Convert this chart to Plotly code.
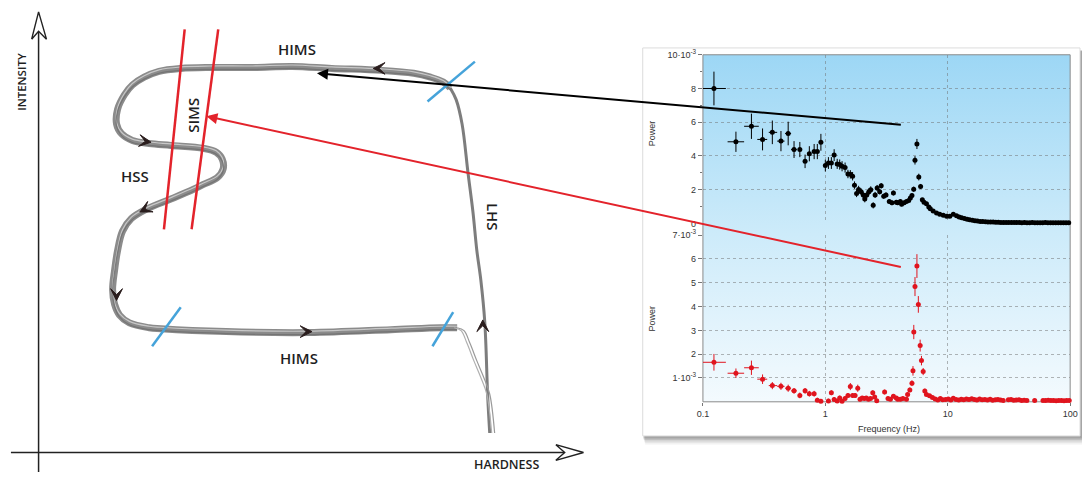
import math
import plotly.graph_objects as go

# ---------------- left schematic (canvas pixel coordinates, y down) ----------------
# low-hard state branch (rising)
lhs_x = [490, 488, 485, 481, 477, 473, 468, 462, 456, 450]
lhs_y = [437, 400, 323, 280, 250, 210, 170, 120, 95, 83]
# main loop: upper HIMS -> SIMS -> HSS -> lower HIMS
loop_x = [450, 443, 430, 413, 380, 330, 290, 250, 207, 177, 155, 140, 128, 120, 113, 112, 117, 128, 145,
          167, 200, 213, 219, 220, 214, 200, 190, 167, 143, 127, 118, 113, 110, 108, 110, 115, 125, 145,
          157, 223, 307, 390, 440, 457]
loop_y = [83, 77, 72, 68, 65, 63, 61, 62, 62, 63, 66, 72, 80, 90, 105, 120, 130, 137, 140,
          142, 145, 149, 156, 166, 175, 182, 187, 197, 207, 217, 230, 250, 270, 290, 305, 316, 324, 329,
          330, 333, 334, 331, 329, 329]
# thin tail falling back to the bottom
tail_x = [457, 464, 470, 477, 484, 490, 495]
tail_y = [329, 332, 345, 363, 380, 397, 437]

chev_x = [377, 142, 140, 112, 305, 483]
chev_y = [63, 138, 208, 296, 333, 326]
chev_ang = [180, 8, 153, 90, 0, -90]

blue_ticks = [((427, 97), (475, 56)), ((148, 348), (177, 308)), ((432, 348), (453, 313))]
red_bars = [((181, 23), (160, 228)), ((215, 23), (188, 228))]

labels = [("HIMS", 295, 43, 0, 15), ("HIMS", 297, 360, 0, 15), ("HSS", 131, 173, 0, 15),
          ("SIMS", 190, 111, -90, 15), ("LHS", 494, 215, 90, 15),
          ("INTENSITY", 15, 77, -90, 11.5), ("HARDNESS", 507, 469, 0, 12.5)]

# ---------------- power density spectra ----------------
blk_f = [0.123, 0.186, 0.249, 0.307, 0.369, 0.434, 0.497, 0.555, 0.619, 0.683, 0.74, 0.81, 0.86, 0.92,
         1.00, 1.06, 1.12, 1.18, 1.25, 1.31, 1.37, 1.45, 1.53, 1.60, 1.67, 1.73, 1.80, 1.87, 1.96, 2.04,
         2.10, 2.18, 2.27, 2.35, 2.46, 2.55, 2.65, 2.78, 2.86, 3.00, 3.13, 3.33, 3.50, 3.60, 3.80, 3.90,
         4.10, 4.20, 4.40, 4.60, 4.80, 4.95, 5.10, 5.27, 5.40, 5.60, 5.80, 6.00, 6.20, 6.40, 6.70, 7.00,
         7.20, 7.60, 8.10, 8.60, 9.20, 9.80, 10.4, 11.1, 11.8, 12.4,
         13.0, 13.7, 14.4, 15.1, 15.9, 16.7, 17.5, 18.4, 19.3, 20.3, 21.3, 22.4, 23.5, 24.7, 25.9, 27.2,
         28.6, 30.0, 31.5, 33.1, 34.8, 36.5, 38.4, 40.3, 42.3, 44.4, 46.7, 49.0, 51.5, 54.1, 56.8, 59.6,
         62.6, 65.8, 69.1, 72.5, 76.2, 80.0, 84.0, 88.2, 92.6, 97.3]
blk_p = [8.0, 4.84, 5.76, 4.98, 5.40, 4.88, 5.33, 4.38, 4.38, 3.68, 4.13, 4.26, 4.26, 4.81,
         3.43, 3.58, 3.58, 4.05, 3.53, 3.49, 3.39, 3.31, 2.93, 2.91, 2.80, 2.27, 1.78, 2.01, 1.88, 1.69,
         1.45, 1.69, 1.88, 2.00, 1.07, 1.69, 2.10, 1.88, 2.23, 1.61, 1.69, 1.30, 1.22, 1.80, 1.26, 1.22,
         1.30, 1.14, 1.22, 1.30, 1.36, 1.51, 1.65, 2.03, 3.74, 4.71, 2.75, 2.19, 1.40, 1.26, 1.16, 0.98,
         0.87, 0.74, 0.62, 0.54, 0.48, 0.43, 0.43, 0.54, 0.45, 0.38,
         0.33, 0.29, 0.25, 0.22, 0.19, 0.16, 0.14, 0.12, 0.11, 0.10, 0.09, 0.08, 0.08, 0.07, 0.07, 0.06,
         0.06, 0.06, 0.05, 0.05, 0.05, 0.05, 0.05, 0.04, 0.05, 0.04, 0.04, 0.05, 0.04, 0.04, 0.04, 0.04,
         0.05, 0.04, 0.04, 0.04, 0.04, 0.04, 0.04, 0.04, 0.04, 0.04]
blk_err = [1.0, 0.6, 0.75, 0.65, 0.7, 0.6, 0.7, 0.5, 0.45, 0.4, 0.45, 0.45, 0.45, 0.5,
           0.35, 0.35, 0.35, 0.35, 0.3, 0.3, 0.3, 0.3, 0.25, 0.25, 0.25, 0.22, 0.22, 0.22, 0.2, 0.2,
           0.2, 0.2, 0.2, 0.2, 0.18, 0.18, 0.18, 0.16, 0.16, 0.15, 0.15, 0.14, 0.14, 0.14, 0.13, 0.13,
           0.12, 0.12, 0.12, 0.12, 0.12, 0.12, 0.12, 0.15, 0.25, 0.3, 0.2, 0.15, 0.1, 0.1, 0.08, 0.06,
           0.06, 0.05, 0.05, 0.04, 0.04, 0.04, 0.04, 0.04, 0.03, 0.03]
blk_fplus = [0.031, 0.031, 0.037, 0.028, 0.035, 0.03, 0.028, 0.03]
blk_fminus = [0.023, 0.027, 0.032, 0.029, 0.024, 0.03, 0.028, 0.03]

red_f = [0.123, 0.186, 0.249, 0.307, 0.369, 0.434, 0.497, 0.555, 0.619, 0.683, 0.74, 0.81, 0.86, 0.92,
         1.06, 1.12, 1.18, 1.25, 1.31, 1.37, 1.45, 1.53, 1.60, 1.67, 1.75, 1.84, 1.92, 2.00, 2.08, 2.16,
         2.25, 2.34, 2.44, 2.53, 2.63, 3.05, 3.25, 3.40, 3.60, 3.80, 3.90, 4.10, 4.30, 4.60, 4.70, 4.90,
         5.10, 5.20, 5.28, 5.40, 5.60, 5.75, 5.95, 6.10, 6.30, 6.50, 6.70, 7.10,
         7.5, 7.9, 8.3, 8.7, 9.1, 9.6, 10.1, 10.6, 11.1, 11.7, 12.3, 12.9, 13.5, 14.2, 14.9, 15.7, 16.5,
         17.3, 18.2, 19.1, 20.1, 21.1, 22.2, 23.3, 24.5, 25.7, 27.0, 28.4, 31.3, 32.9, 34.6, 36.3, 38.2,
         40.1, 42.1, 44.3, 51.3, 60.0, 63.0, 66.2, 69.6, 73.1, 76.8, 80.7, 84.8, 89.1, 93.6, 98.3]
red_p = [1.66, 1.20, 1.43, 0.95, 0.68, 0.65, 0.57, 0.46, 0.27, 0.46, 0.34, 0.34, 0.07, 0.02,
         0.03, 0.38, 0.10, 0.03, 0.16, 0.02, 0.14, 0.27, 0.64, 0.27, 0.27, 0.57, 0.11, 0.16, 0.14, 0.16,
         0.11, 0.14, 0.38, 0.20, 0.04, 0.41, 0.14, 0.11, 0.23, 0.16, 0.11, 0.11, 0.14, 0.11, 0.31, 0.50,
         0.78, 1.30, 2.93, 4.84, 5.70, 4.09, 2.36, 1.73, 1.27, 0.45, 0.31, 0.25,
         0.18, 0.12, 0.08, 0.14, 0.09, 0.10, 0.12, 0.08, 0.15, 0.10, 0.08, 0.11, 0.09, 0.12, 0.10, 0.13, 0.10,
         0.08, 0.12, 0.09, 0.10, 0.08, 0.11, 0.07, 0.09, 0.10, 0.08, 0.06, 0.09, 0.10, 0.07, 0.08, 0.09,
         0.06, 0.07, 0.06, 0.05, 0.06, 0.05, 0.07, 0.05, 0.06, 0.04, 0.05, 0.06, 0.04, 0.05, 0.05]
red_err = [0.35, 0.2, 0.3, 0.2, 0.15, 0.15, 0.15, 0.12, 0.12, 0.12, 0.12, 0.12, 0.1, 0.1,
           0.1, 0.1, 0.1, 0.1, 0.1, 0.1, 0.1, 0.1, 0.15, 0.1, 0.1, 0.15, 0.1, 0.08, 0.08, 0.08,
           0.08, 0.08, 0.1, 0.08, 0.08, 0.1, 0.08, 0.08, 0.08, 0.08, 0.08, 0.08, 0.08, 0.08, 0.08, 0.1,
           0.12, 0.2, 0.3, 0.4, 0.5, 0.35, 0.25, 0.2, 0.15, 0.1, 0.08, 0.08]
red_fplus = blk_fplus
red_fminus = blk_fminus

f_ticks = [0.1, 1, 10, 100]
f_ticktext = ["0.1", "1", "10", "100"]
top_ticks = [0, 2, 4, 6, 8, 10]
top_ticktext = ["0", "2", "4", "6", "8", "10·10<sup>-3</sup>"]
bot_ticks = [1, 2, 3, 4, 5, 6, 7]
bot_ticktext = ["1·10<sup>-3</sup>", "2", "3", "4", "5", "6", "7·10<sup>-3</sup>"]

# panel geometry (pixels)
W, H = 1090, 477
PL, PR, PT, PM0, PM7, PB = 706, 1078, 49, 222, 234, 405


def pad(lst, n, v=0):
    return lst + [v] * (n - len(lst))


fig = go.Figure()

# --- card shadow and card (shapes, below) ---
shapes = []
for i, a in enumerate([0.04, 0.06, 0.08, 0.10, 0.13]):
    o = 5 - i
    shapes.append(dict(type="rect", xref="x", yref="y", x0=645 + o * 0.5, x1=1090 + o, y0=44 + o * 0.3,
                       y1=441 + o * 1.6, fillcolor=f"rgba(0,0,0,{a})", line_width=0, layer="below"))
shapes.append(dict(type="rect", xref="x", yref="y", x0=645, x1=1088, y0=42, y1=440,
                   fillcolor="white", line=dict(color="#dcdcdc", width=1), layer="below"))

# --- gradient background of the plot area ---
fig.add_trace(go.Scatter(x=[PL, PR, PR, PL, PL], y=[PT, PT, PB, PB, PT], mode="lines", fill="toself",
                         line=dict(width=0), hoverinfo="skip", showlegend=False,
                         fillgradient=dict(type="vertical", start=PB, stop=PT,
                                           colorscale=[[0, "#f6fbfe"], [0.5, "#cdebfa"], [1, "#9dd7f5"]]),
                         xaxis="x", yaxis="y"))
fig.add_trace(go.Scatter(x=[PL, PR, PR, PL, PL], y=[PT, PT, PB, PB, PT], mode="lines",
                         line=dict(color="#8a8a8a", width=1), hoverinfo="skip", showlegend=False,
                         xaxis="x", yaxis="y"))

# --- axes of the schematic ---
fig.add_trace(go.Scatter(x=[33, 33, None, 5, 582], y=[477, 8, None, 457, 457], mode="lines",
                         line=dict(color="#222", width=1.5), showlegend=False, hoverinfo="skip"))
fig.add_trace(go.Scatter(x=[26, 33, 41, 33, 26], y=[33, 5, 33, 25, 33], mode="lines", fill="toself",
                         fillcolor="white", line=dict(color="#222", width=1.4), showlegend=False, hoverinfo="skip"))
fig.add_trace(go.Scatter(x=[557, 585, 557, 566, 557], y=[449, 457, 465, 457, 449], mode="lines", fill="toself",
                         fillcolor="white", line=dict(color="#222", width=1.4), showlegend=False, hoverinfo="skip"))

# --- loop path ---
fig.add_trace(go.Scatter(x=lhs_x, y=lhs_y, mode="lines", line=dict(color="#7d7d7d", width=3, shape="spline"),
                         showlegend=False, hoverinfo="skip"))
fig.add_trace(go.Scatter(x=loop_x, y=loop_y, mode="lines", line=dict(color="#8b8b8b", width=7, shape="spline"),
                         showlegend=False, hoverinfo="skip"))
fig.add_trace(go.Scatter(x=loop_x, y=[v - 1.5 for v in loop_y], mode="lines",
                         line=dict(color="rgba(215,215,215,0.8)", width=1.2, shape="spline"),
                         showlegend=False, hoverinfo="skip"))
fig.add_trace(go.Scatter(x=loop_x, y=[v + 2 for v in loop_y], mode="lines",
                         line=dict(color="rgba(110,110,110,0.8)", width=1.2, shape="spline"),
                         showlegend=False, hoverinfo="skip"))
fig.add_trace(go.Scatter(x=tail_x, y=tail_y, mode="lines", line=dict(color="#9a9a9a", width=1.2, shape="spline"),
                         showlegend=False, hoverinfo="skip"))
fig.add_trace(go.Scatter(x=[v - 3 for v in tail_x], y=tail_y, mode="lines",
                         line=dict(color="#b0b0b0", width=1.2, shape="spline"),
                         showlegend=False, hoverinfo="skip"))

# chevrons on the path (filled arrowheads with a notch)
for x0, y0, a in zip(chev_x, chev_y, chev_ang):
    r = math.radians(a)
    ux, uy = math.cos(r), math.sin(r)
    px, py = -uy, ux
    tx, ty = x0 + 5 * ux, y0 + 5 * uy
    w1 = (tx - 12 * ux + 6 * px, ty - 12 * uy + 6 * py)
    w2 = (tx - 12 * ux - 6 * px, ty - 12 * uy - 6 * py)
    nt = (tx - 6 * ux, ty - 6 * uy)
    fig.add_trace(go.Scatter(x=[tx, w1[0], nt[0], w2[0], tx], y=[ty, w1[1], nt[1], w2[1], ty],
                             mode="lines", fill="toself", fillcolor="#2a1d1d",
                             line=dict(color="#2a1d1d", width=1), showlegend=False, hoverinfo="skip"))

# blue and red markers
bx, by = [], []
for (a, b) in blue_ticks:
    bx += [a[0], b[0], None]
    by += [a[1], b[1], None]
fig.add_trace(go.Scatter(x=bx, y=by, mode="lines", line=dict(color="#45a3da", width=2.5),
                         showlegend=False, hoverinfo="skip"))
rx, ry = [], []
for (a, b) in red_bars:
    rx += [a[0], b[0], None]
    ry += [a[1], b[1], None]
fig.add_trace(go.Scatter(x=rx, y=ry, mode="lines", line=dict(color="#e3232b", width=2.5),
                         showlegend=False, hoverinfo="skip"))

# --- PDS data ---
nb = len(blk_f)
fig.add_trace(go.Scatter(x=blk_f, y=blk_p, mode="markers", xaxis="x2", yaxis="y2", cliponaxis=False,
                         marker=dict(color="black", size=5),
                         error_y=dict(type="data", array=pad(blk_err, nb, 0.02), color="black", thickness=1, width=0),
                         error_x=dict(type="data", array=pad(blk_fplus, nb), arrayminus=pad(blk_fminus, nb),
                                      color="black", thickness=1, width=0),
                         showlegend=False))
nr = len(red_f)
fig.add_trace(go.Scatter(x=red_f, y=red_p, mode="markers", xaxis="x3", yaxis="y3", cliponaxis=False,
                         marker=dict(color="#e0141e", size=5),
                         error_y=dict(type="data", array=pad(red_err, nr, 0.03), color="#e0141e", thickness=1, width=0),
                         error_x=dict(type="data", array=pad(red_fplus, nr), arrayminus=pad(red_fminus, nr),
                                      color="#e0141e", thickness=1, width=0),
                         showlegend=False))

# --- annotations ---
ann = []
for t, x, y, ang, sz in labels:
    ann.append(dict(text=t, x=x, y=y, xref="x", yref="y", showarrow=False, textangle=ang,
                    font=dict(family="Open Sans", size=sz, color="#1e1e1e", weight=600)))
ann.append(dict(text="Power", x=654, y=130, xref="x", yref="y", showarrow=False, textangle=-90,
                font=dict(family="Liberation Sans", size=9, color="#333")))
ann.append(dict(text="Power", x=654, y=320, xref="x", yref="y", showarrow=False, textangle=-90,
                font=dict(family="Liberation Sans", size=9, color="#333")))
ann.append(dict(text="Frequency (Hz)", x=894, y=433, xref="x", yref="y", showarrow=False,
                font=dict(family="Liberation Sans", size=9, color="#333")))
# arrows linking spectra to the diagram
ann.append(dict(x=315, y=68, ax=908, ay=121, xref="x", yref="y", axref="x", ayref="y", text="",
                showarrow=True, arrowhead=2, arrowsize=1.1, arrowwidth=2, arrowcolor="black", standoff=0))
ann.append(dict(x=203, y=112, ax=908, ay=267, xref="x", yref="y", axref="x", ayref="y", text="",
                showarrow=True, arrowhead=2, arrowsize=1.1, arrowwidth=2, arrowcolor="#e3232b", standoff=0))

grid = dict(showgrid=True, gridcolor="rgba(110,110,110,0.5)", griddash="dot", gridwidth=1)
tickfont = dict(family="Liberation Sans", size=9, color="#333")
xd = [PL / W, PR / W]

fig.update_layout(
    width=W, height=H, margin=dict(l=0, r=0, t=0, b=0),
    paper_bgcolor="white", plot_bgcolor="rgba(0,0,0,0)",
    shapes=shapes, annotations=ann,
    xaxis=dict(range=[0, W], domain=[0, 1], visible=False, fixedrange=True),
    yaxis=dict(range=[H, 0], domain=[0, 1], visible=False, fixedrange=True),
    xaxis2=dict(type="log", range=[-1, 2], domain=xd, anchor="y2", tickvals=f_ticks, showticklabels=False,
                zeroline=False, showline=False, ticks="", **grid),
    yaxis2=dict(range=[0, 10], domain=[1 - PM0 / H, 1 - PT / H], anchor="x2", tickvals=top_ticks,
                ticktext=top_ticktext, ticks="outside", ticklen=4, tickcolor="#777", tickfont=tickfont,
                minor=dict(tickvals=[1, 3, 5, 7, 9], ticks="outside", ticklen=2, tickcolor="#777", showgrid=False),
                zeroline=False, showline=False, **grid),
    xaxis3=dict(type="log", range=[-1, 2], domain=xd, anchor="y3", tickvals=f_ticks, ticktext=f_ticktext,
                ticks="outside", ticklen=3, tickcolor="#777", tickfont=tickfont, zeroline=False, showline=False,
                **grid),
    yaxis3=dict(range=[0, 7], domain=[1 - PB / H, 1 - PM7 / H], anchor="x3", tickvals=bot_ticks,
                ticktext=bot_ticktext, ticks="outside", ticklen=4, tickcolor="#777", tickfont=tickfont,
                zeroline=False, showline=False, **grid),
)

fig.write_html("out.html", config={"displayModeBar": False},
               post_script="document.body.style.margin='0';")
